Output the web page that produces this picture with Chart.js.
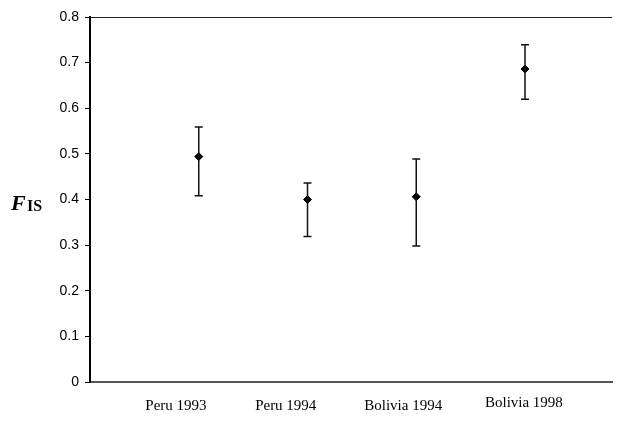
<!DOCTYPE html>
<html>
<head>
<meta charset="utf-8">
<script src="https://cdn.jsdelivr.net/npm/chart.js@4"></script>
<style>
  html, body { margin: 0; padding: 0; background: #fff; }
  #wrap { width: 628px; height: 422px; }
</style>
</head>
<body>
<div id="wrap"><canvas id="chart"></canvas></div>
<script>
const categories = ['Peru 1993', 'Peru 1994', 'Bolivia 1994', 'Bolivia 1998'];
const xValues = [1, 2, 3, 4];
const fisValues = [0.494, 0.400, 0.406, 0.686];
const lowerValues = [0.408, 0.319, 0.298, 0.620];
const upperValues = [0.559, 0.436, 0.489, 0.739];
const yTicks = [0, 0.1, 0.2, 0.3, 0.4, 0.5, 0.6, 0.7, 0.8];

// where the category labels sit on the x scale (text boxes in the original are off-centre)
const labelAt = [0.79, 1.80, 2.88, 3.99];

const errorBars = {
  id: 'errorBars',
  afterDatasetsDraw(chart) {
    const { ctx, scales: { x, y } } = chart;
    ctx.save();
    ctx.strokeStyle = '#111';
    ctx.lineWidth = 1.5;
    xValues.forEach((v, i) => {
      const px = x.getPixelForValue(v);
      const lo = y.getPixelForValue(lowerValues[i]);
      const hi = y.getPixelForValue(upperValues[i]);
      ctx.beginPath();
      ctx.moveTo(px, lo); ctx.lineTo(px, hi);
      ctx.moveTo(px - 4, lo); ctx.lineTo(px + 4, lo);
      ctx.moveTo(px - 4, hi); ctx.lineTo(px + 4, hi);
      ctx.stroke();
    });
    ctx.restore();
  }
};

const extras = {
  id: 'extras',
  afterDraw(chart) {
    const { ctx, chartArea, scales: { x } } = chart;
    ctx.save();
    // top frame line
    ctx.strokeStyle = '#222';
    ctx.lineWidth = 1;
    ctx.beginPath();
    ctx.moveTo(chartArea.left, chartArea.top + 0.5);
    ctx.lineTo(chartArea.right, chartArea.top + 0.5);
    ctx.stroke();

    // category labels
    ctx.fillStyle = '#000';
    ctx.font = '15px "Liberation Serif", "Times New Roman", serif';
    ctx.textAlign = 'center';
    ctx.textBaseline = 'alphabetic';
    categories.forEach((c, i) => {
      const base = i === 3 ? 407 : 410;
      ctx.fillText(c, x.getPixelForValue(labelAt[i]), base);
    });

    // axis title F_IS
    ctx.textAlign = 'left';
    ctx.font = 'italic bold 22px "Liberation Serif", "Times New Roman", serif';
    ctx.fillText('F', 11, 210);
    ctx.font = 'bold 16px "Liberation Serif", "Times New Roman", serif';
    ctx.fillText('IS', 27, 211);
    ctx.restore();
  }
};

new Chart(document.getElementById('chart'), {
  type: 'scatter',
  data: {
    datasets: [{
      label: 'FIS',
      data: xValues.map((v, i) => ({ x: v, y: fisValues[i] })),
      pointStyle: 'rectRot',
      radius: 4,
      hoverRadius: 4,
      backgroundColor: '#000',
      borderColor: '#000',
      borderWidth: 1
    }]
  },
  options: {
    responsive: true,
    maintainAspectRatio: false,
    animation: false,
    layout: { padding: { top: 17, right: 16, left: 0, bottom: 0 } },
    plugins: { legend: { display: false }, tooltip: { enabled: false } },
    scales: {
      x: {
        type: 'linear',
        min: 0,
        max: 4.8,
        ticks: { display: false },
        grid: { display: false },
        border: { color: '#555', width: 2 },
        afterFit(s) { s.height = 40; }
      },
      y: {
        min: 0,
        max: 0.8,
        afterBuildTicks(s) { s.ticks = yTicks.map(v => ({ value: v })); },
        ticks: {
          color: '#000',
          padding: 6,
          font: { family: '"Liberation Sans", Arial, sans-serif', size: 14 },
          callback: v => (v === 0 ? '0' : v.toFixed(1))
        },
        grid: { display: true, drawOnChartArea: false, drawTicks: true, tickLength: 5, color: '#000' },
        border: { color: '#000', width: 2 },
        afterFit(s) { s.width = 90; }
      }
    }
  },
  plugins: [errorBars, extras]
});
</script>
</body>
</html>
